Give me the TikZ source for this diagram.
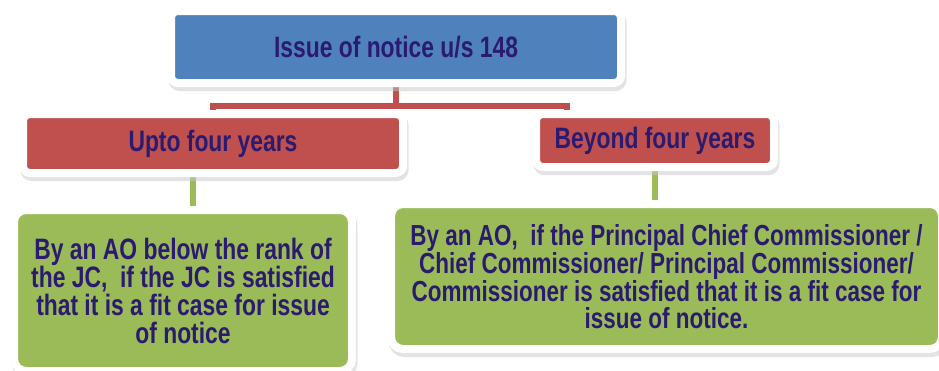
\documentclass[tikz,border=0pt]{standalone}
\usepackage{fontspec}
\setmainfont{Liberation Sans}[FakeStretch=0.775]
\usetikzlibrary{shadows, backgrounds}
\definecolor{issueblue}{RGB}{79,129,189}
\definecolor{yearred}{RGB}{192,80,77}
\definecolor{rulegreen}{RGB}{155,187,89}
\definecolor{inktext}{RGB}{43,27,112}

\begin{document}
\begin{tikzpicture}[x=1pt, y=-1pt,
  boxframe/.style={draw=white, line width=8pt, align=center, text=inktext, inner sep=0pt,
    font=\fontsize{29.5}{28}\selectfont\bfseries,
    drop shadow={shadow xshift=1.5pt, shadow yshift=-4pt, fill=black!22, draw=black!22, line width=8pt}},
  topbox/.style={fill=issueblue, rounded corners=7pt},
  yearbox/.style={fill=yearred, rounded corners=7pt},
  rulebox/.style={fill=rulegreen, rounded corners=12pt},
  redline/.style={draw=yearred, line width=6pt},
  greenline/.style={draw=rulegreen, line width=6pt}]
\useasboundingbox (0,0) rectangle (939,370);

\node[boxframe, topbox, minimum width=450pt, minimum height=72pt] (issue) at (396,47) {Issue of notice u/s 148};
\node[boxframe, yearbox, minimum width=380pt, minimum height=59pt] (upto) at (213,143.5) {Upto four years};
\node[boxframe, yearbox, minimum width=238pt, minimum height=53pt] (beyond) at (655,140.5) {Beyond four years};
\node[boxframe, rulebox, minimum width=338pt, minimum height=161pt] (byjc) at (183,290.5)
  {By an AO below the rank of\\the JC,\ \ if the JC is satisfied\\that it is a fit case for issue\\of notice};
\node[boxframe, rulebox, minimum width=551pt, minimum height=145pt,
  font=\fontsize{29}{27}\selectfont\bfseries] (bycc) at (666.5,276.5)
  {By an AO,\ \ if the Principal Chief Commissioner /\\Chief Commissioner/ Principal Commissioner/\\Commissioner is satisfied that it is a fit case for\\issue of notice.};

% connectors behind the frames
\begin{scope}[on background layer]
\draw[redline] (issue.south) -- ++(0,19) coordinate (fork) -| (upto.north);
\draw[redline] (fork) -| ([xshift=-88pt]beyond.north);
\draw[greenline] ([xshift=-20pt]upto.south) -- ([xshift=-20pt]upto.south |- byjc.north);
\draw[greenline] (beyond.south) -- (beyond.south |- bycc.north);
\end{scope}
\end{tikzpicture}
\end{document}
